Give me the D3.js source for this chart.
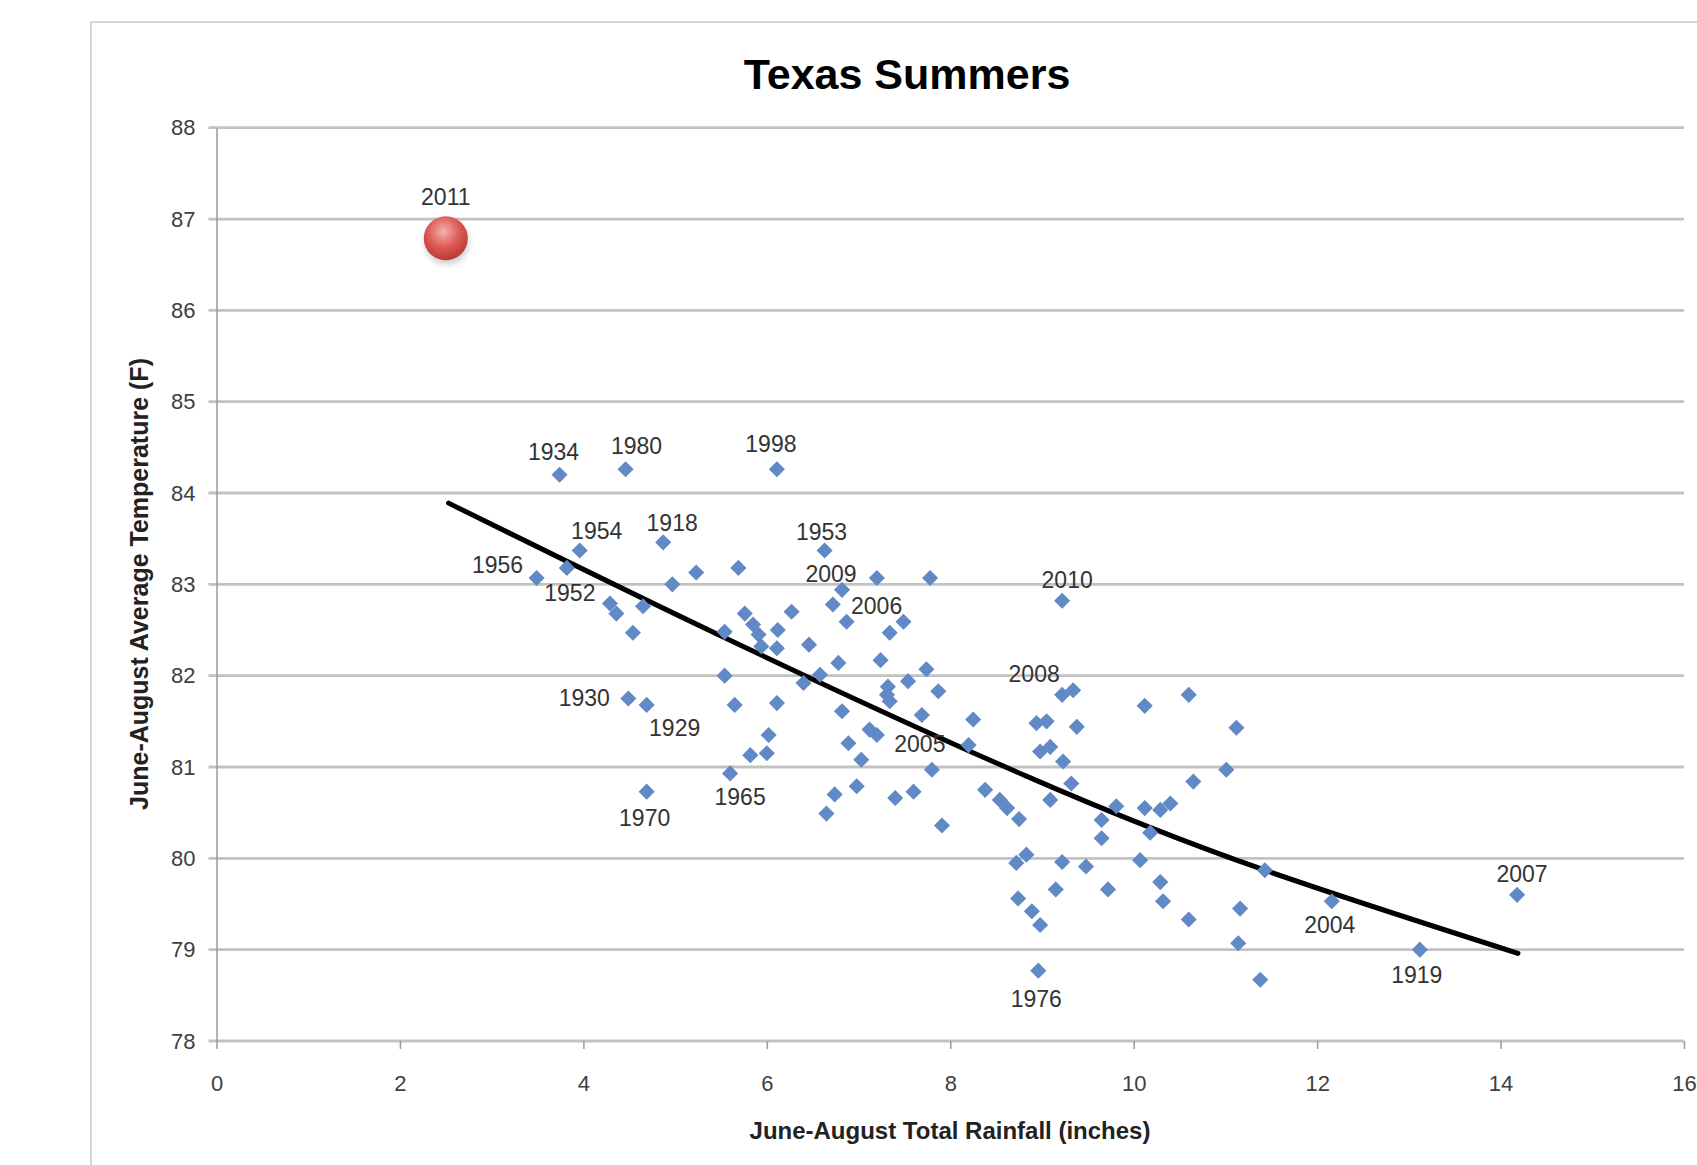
<!DOCTYPE html>
<html lang="en">
<head>
    <meta charset="UTF-8">
    <script src="https://d3js.org/d3.v7.min.js"></script>
    <title>Texas Summers</title>
    <style>
        body { margin: 0; background: #fff; }
        svg text { font-family: "Liberation Sans", Arial, sans-serif; }
        .grid line { stroke: #c2c2c2; stroke-width: 2.8; }
        .tick text { fill: #404040; font-size: 22px; }
        .lbl { fill: #333; font-size: 23px; }
    </style>
</head>
<body>
<div id="container"></div>
<script>
    // rainfall (in) and average temperature (F), June-August
    var rainfall = [3.74, 4.46, 6.11, 3.96, 4.87, 6.63, 3.49, 3.82, 6.82, 6.87, 9.22, 9.22, 4.49, 4.69, 7.20, 5.60, 4.69, 8.96, 12.16, 13.12, 14.18,
        4.97, 5.23, 5.69, 4.29, 4.36, 4.65, 4.54, 5.54, 5.76, 5.85, 5.91, 5.94, 6.11, 6.12, 6.27, 6.46, 6.72, 6.78, 6.58, 6.40,
        5.54, 5.65, 6.11, 6.82, 7.20, 7.78, 7.49, 7.34, 7.24, 7.74, 7.54, 7.32, 7.31, 7.34, 7.87, 9.34, 10.12, 10.60, 7.69, 8.25,
        6.02, 5.82, 6.00, 6.89, 6.74, 6.65, 6.98, 7.12, 7.03, 7.40, 7.60, 7.80, 7.91, 8.20, 8.38, 8.54, 8.62, 8.75, 8.94, 9.05,
        9.38, 8.98, 9.09, 9.23, 9.32, 9.09, 8.72, 8.83, 9.22, 9.48, 10.07, 9.65, 9.65, 10.12, 10.29, 10.40, 10.18, 9.81, 10.65,
        9.15, 9.72, 8.74, 8.89, 8.98, 10.29, 10.32, 10.60, 11.12, 11.01, 11.43, 11.16, 11.14, 11.38];
    var temperature = [84.20, 84.26, 84.26, 83.37, 83.46, 83.37, 83.07, 83.18, 82.94, 82.59, 82.82, 81.79, 81.75, 81.68, 81.35, 80.93, 80.73, 78.77, 79.53, 79.00, 79.60,
        83.00, 83.13, 83.18, 82.79, 82.68, 82.76, 82.47, 82.48, 82.68, 82.56, 82.45, 82.32, 82.30, 82.50, 82.70, 82.34, 82.78, 82.14, 82.01, 81.92,
        82.00, 81.68, 81.70, 81.61, 83.07, 83.07, 82.59, 82.47, 82.17, 82.07, 81.94, 81.88, 81.79, 81.72, 81.83, 81.84, 81.67, 81.79, 81.57, 81.52,
        81.35, 81.13, 81.15, 81.26, 80.70, 80.49, 80.79, 81.41, 81.08, 80.66, 80.73, 80.97, 80.36, 81.24, 80.75, 80.64, 80.55, 80.43, 81.48, 81.50,
        81.44, 81.17, 81.22, 81.06, 80.82, 80.64, 79.95, 80.04, 79.96, 79.91, 79.98, 80.42, 80.22, 80.55, 80.53, 80.60, 80.28, 80.57, 80.84,
        79.66, 79.66, 79.56, 79.42, 79.27, 79.74, 79.53, 79.33, 81.43, 80.97, 79.87, 79.45, 79.07, 78.67];
    var yearLabels = ["1934", "1980", "1998", "1954", "1918", "1953", "1956", "1952", "2009", "2006", "2010", "2008", "1930", "1929", "2005", "1965", "1970", "1976", "2004", "1919", "2007"];

    // 2011 shown on its own
    var hotYear = "2011", hotRain = 2.50, hotTemp = 86.79;

    // trend line
    var trendRain = [2.53, 5.49, 8.83, 11.43, 14.19];
    var trendTemp = [83.89, 82.44, 80.90, 79.87, 78.96];

    var xTicks = [0, 2, 4, 6, 8, 10, 12, 14, 16];
    var yTicks = [78, 79, 80, 81, 82, 83, 84, 85, 86, 87, 88];

    // where each year label sits relative to its marker
    var labelShift = {
        "2011": [0, -41], "1934": [-6, -23], "1980": [11, -23], "1998": [-6, -25], "1954": [17, -20],
        "1918": [9, -19], "1953": [-3, -19], "1956": [-39, -13], "1952": [3, 25], "2009": [-11, -16],
        "2006": [30, -16], "2010": [5, -21], "2008": [-28, -21], "1930": [-44, -1], "1929": [28, 23],
        "2005": [43, 9], "1970": [-2, 26], "1965": [10, 24], "1976": [-2, 28], "2004": [-2, 24],
        "1919": [-3, 25], "2007": [5, -21]
    };

    var W = 1697, H = 1165;
    var svg = d3.select("#container").append("svg").attr("width", W).attr("height", H);

    // chart area frame
    svg.append("rect").attr("x", 91).attr("y", 22).attr("width", W).attr("height", H)
        .attr("fill", "#fff").attr("stroke", "#d6d6d6").attr("stroke-width", 2);

    var x = d3.scaleLinear().domain([0, 16]).range([216.5, 1684]);
    var y = d3.scaleLinear().domain([78, 88]).range([1041, 127.7]);

    // horizontal gridlines
    svg.append("g").attr("class", "grid")
        .selectAll("line").data(yTicks).join("line")
        .attr("x1", x(0) - 8).attr("x2", x(16))
        .attr("y1", d => y(d)).attr("y2", d => y(d));

    // y axis
    var yAxis = svg.append("g").attr("transform", `translate(${x(0)},0)`)
        .call(d3.axisLeft(y).tickValues(yTicks).tickSize(0).tickPadding(21));
    yAxis.select(".domain").attr("stroke", "#9a9a9a").attr("stroke-width", 1.5);

    // x axis
    var xAxis = svg.append("g").attr("transform", `translate(0,${y(78)})`)
        .call(d3.axisBottom(x).tickValues(xTicks).tickSize(8).tickPadding(26));
    xAxis.select(".domain").remove();
    xAxis.selectAll(".tick line").attr("stroke", "#9a9a9a").attr("stroke-width", 1.5);

    // trend line
    var trend = d3.line().x(d => x(d[0])).y(d => y(d[1])).curve(d3.curveNatural);
    svg.append("path")
        .attr("d", trend(d3.zip(trendRain, trendTemp)))
        .attr("fill", "none").attr("stroke", "#000").attr("stroke-width", 5).attr("stroke-linecap", "round");

    // diamonds
    var pts = d3.zip(rainfall, temperature);
    var diamond = d3.symbol(d3.symbolSquare, 130);
    svg.append("g").selectAll("path").data(pts).join("path")
        .attr("d", diamond)
        .attr("transform", d => `translate(${x(d[0])},${y(d[1])}) rotate(45)`)
        .attr("fill", "#6189c6");

    // year labels
    svg.append("g").selectAll("text").data(yearLabels).join("text")
        .attr("class", "lbl")
        .attr("x", (d, i) => x(rainfall[i]) + labelShift[d][0])
        .attr("y", (d, i) => y(temperature[i]) + labelShift[d][1])
        .attr("text-anchor", "middle").attr("dominant-baseline", "central")
        .text(d => d);

    // 2011 ball
    var defs = svg.append("defs");
    var grad = defs.append("radialGradient").attr("id", "ball").attr("cx", "45%").attr("cy", "35%").attr("r", "65%");
    grad.append("stop").attr("offset", "0%").attr("stop-color", "#f6b3ad");
    grad.append("stop").attr("offset", "55%").attr("stop-color", "#dd5a55");
    grad.append("stop").attr("offset", "100%").attr("stop-color", "#b83a36");
    var shadow = defs.append("filter").attr("id", "shd").attr("x", "-50%").attr("y", "-50%").attr("width", "200%").attr("height", "200%");
    shadow.append("feGaussianBlur").attr("stdDeviation", 3);

    svg.append("circle").attr("cx", x(hotRain) + 1).attr("cy", y(hotTemp) + 4).attr("r", 22)
        .attr("fill", "#999").attr("opacity", 0.5).attr("filter", "url(#shd)");
    svg.append("circle").attr("cx", x(hotRain)).attr("cy", y(hotTemp)).attr("r", 22)
        .attr("fill", "url(#ball)");
    svg.append("text").attr("class", "lbl")
        .attr("x", x(hotRain) + labelShift[hotYear][0]).attr("y", y(hotTemp) + labelShift[hotYear][1])
        .attr("text-anchor", "middle").attr("dominant-baseline", "central")
        .text(hotYear);

    // titles
    svg.append("text").attr("x", 907).attr("y", 74)
        .attr("text-anchor", "middle").attr("dominant-baseline", "central")
        .style("font-size", "43px").style("font-weight", "bold").attr("fill", "#000")
        .text("Texas Summers");

    svg.append("text").attr("transform", "translate(139,584) rotate(-90)")
        .attr("text-anchor", "middle").attr("dominant-baseline", "central")
        .style("font-size", "25px").style("font-weight", "bold").attr("fill", "#222")
        .text("June-August Average Temperature (F)");

    svg.append("text").attr("x", 950).attr("y", 1130)
        .attr("text-anchor", "middle").attr("dominant-baseline", "central")
        .style("font-size", "24px").style("font-weight", "bold").attr("fill", "#222")
        .text("June-August Total Rainfall (inches)");
</script>
</body>
</html>
